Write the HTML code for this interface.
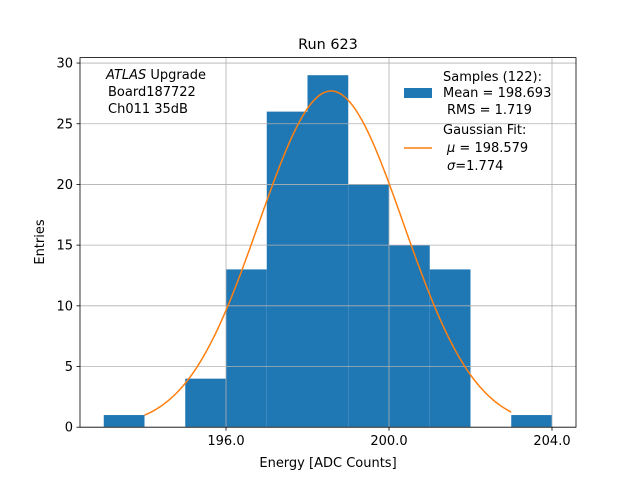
<!DOCTYPE html>
<html><head><meta charset="utf-8"><style>
body{margin:0;background:#fff;}
svg text{font-family:"DejaVu Sans","Liberation Sans",sans-serif;}
</style></head><body>
<svg id="chart" width="640" height="480" viewBox="0 0 640 480" xmlns="http://www.w3.org/2000/svg">
<rect width="640" height="480" fill="#fff"/>
<g id="bars"></g>
<g id="grid"></g>
<path id="fit" fill="none" stroke="#ff7f0e" stroke-width="1.5"/>
<rect x="80" y="57.6" width="496" height="369.6" fill="none" stroke="#000" stroke-width="0.8"/>
<g id="ticks"></g>
<text x="328" y="49" font-size="14.4" text-anchor="middle">Run 623</text>
<text x="328" y="467" font-size="13" text-anchor="middle">Energy [ADC Counts]</text>
<text transform="translate(44,242) rotate(-90)" font-size="13" text-anchor="middle">Entries</text>
<g font-size="13">
<text x="106" y="79"><tspan font-style="italic">ATLAS</tspan> Upgrade</text>
<text x="108" y="96">Board187722</text>
<text x="108" y="113">Ch011 35dB</text>
</g>
<g font-size="13">
<rect x="404" y="88" width="28" height="10" fill="#1f77b4"/>
<text x="443" y="81">Samples (122):</text>
<text x="443" y="97"> Mean = 198.693</text>
<text x="447" y="114">RMS = 1.719</text>
<line x1="404" y1="148" x2="432" y2="148" stroke="#ff7f0e" stroke-width="1.5"/>
<text x="443" y="134">Gaussian Fit:</text>
<text x="447" y="152"><tspan font-style="italic">μ</tspan> = 198.579</text>
<text x="447" y="170"><tspan font-style="italic">σ</tspan>=1.774</text>
</g>
</svg>
<script>
const binEdges=[193,194,195,196,197,198,199,200,201,202,203,204];
const counts=[1,0,4,13,26,29,20,15,13,0,1];
const xTicks=[196.0,200.0,204.0];
const yTicks=[0,5,10,15,20,25,30];
const fitMu=198.579, fitSigma=1.774, fitAmp=27.7, fitRange=[194,203];
const X0=80,X1=576,Y0=427.2,Y1=57.6, xmin=192.417,xmax=204.589,ymin=0,ymax=30.45;
const sx=v=>X0+(v-xmin)/(xmax-xmin)*(X1-X0);
const sy=v=>Y0-(v-ymin)/(ymax-ymin)*(Y0-Y1);
const NS="http://www.w3.org/2000/svg";
const bars=document.getElementById('bars');
counts.forEach((c,i)=>{if(!c)return;
 const r=document.createElementNS(NS,'rect');
 r.setAttribute('x',sx(binEdges[i]));r.setAttribute('width',sx(binEdges[i+1])-sx(binEdges[i]));
 r.setAttribute('y',sy(c));r.setAttribute('height',sy(0)-sy(c));r.setAttribute('fill','#1f77b4');
 
 
 bars.appendChild(r);});
const grid=document.getElementById('grid'),ticks=document.getElementById('ticks');
function ln(p,a,b,c,d,col,w){const l=document.createElementNS(NS,'line');l.setAttribute('x1',a);l.setAttribute('y1',b);l.setAttribute('x2',c);l.setAttribute('y2',d);l.setAttribute('stroke',col);l.setAttribute('stroke-width',w);p.appendChild(l);return l;}
function tx(s,x,y,anchor){const t=document.createElementNS(NS,'text');t.textContent=s;t.setAttribute('x',x);t.setAttribute('y',y);t.setAttribute('font-size','13');t.setAttribute('text-anchor',anchor);ticks.appendChild(t);return t;}
xTicks.forEach(v=>{const x=sx(v);
 const g=ln(grid,x,Y0,x,Y1,'#b0b0b0',0.8);
 
 
 ln(ticks,x,Y0,x,Y0+3.5,'#000',0.8);
 const t=tx(v.toFixed(1),x,Y0+18,'middle');
 
 });
yTicks.forEach(v=>{const y=sy(v);
 const g=ln(grid,X0,y,X1,y,'#b0b0b0',0.8);
 
 
 ln(ticks,X0-3.5,y,X0,y,'#000',0.8);
 const t=tx(String(v),X0-7,y+4.5,'end');
 
 });
let d='';for(let i=0;i<=200;i++){const v=fitRange[0]+(fitRange[1]-fitRange[0])*i/200;
 const f=fitAmp*Math.exp(-0.5*((v-fitMu)/fitSigma)**2);d+=(i?'L':'M')+sx(v).toFixed(2)+','+sy(f).toFixed(2);}
document.getElementById('fit').setAttribute('d',d);
</script>
</body></html>
